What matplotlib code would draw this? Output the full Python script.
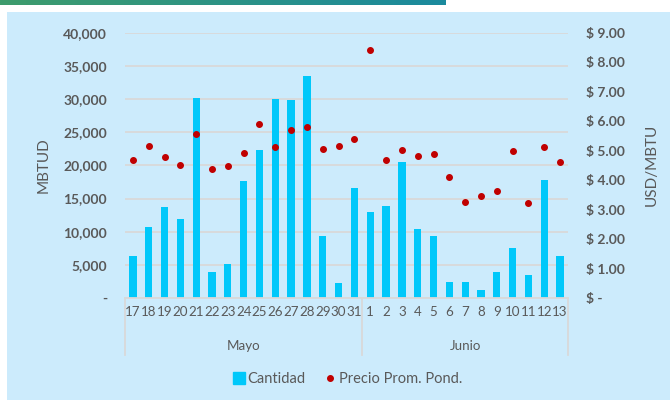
import matplotlib.pyplot as plt
import numpy as np
from matplotlib.patches import Rectangle
from matplotlib.lines import Line2D
from matplotlib.colors import LinearSegmentedColormap

plt.rcParams['font.family'] = ['Lato', 'DejaVu Sans']

# ---- datos ----
dias = ['17', '18', '19', '20', '21', '22', '23', '24', '25', '26', '27', '28', '29', '30', '31',
        '1', '2', '3', '4', '5', '6', '7', '8', '9', '10', '11', '12', '13']
meses = ['Mayo', 'Junio']
dias_por_mes = [15, 13]

cantidad = [6350, 10650, 13750, 11900, 30150, 3900, 5100, 17650, 22350, 30050, 29800, 33500, 9400, 2200, 16600,
            12900, 13900, 20500, 10400, 9400, 2400, 2400, 1200, 3900, 7550, 3450, 17800, 6300]
precio = [4.69, 5.15, 4.78, 4.51, 5.57, 4.38, 4.47, 4.93, 5.90, 5.11, 5.70, 5.80, 5.06, 5.16, 5.39,
          8.43, 4.69, 5.02, 4.83, 4.88, 4.10, 3.25, 3.46, 3.63, 4.97, 3.22, 5.11, 4.60]

ticks_izq = np.arange(0, 40001, 5000)
ticks_der = np.arange(0, 10, 1)

gris = '#595959'
azul_barra = '#00C8FA'
rojo = '#C00000'
fondo = '#CCEBFC'
linea = '#D9D9D9'

fig = plt.figure(figsize=(6.7, 4.0), dpi=100, facecolor='white')

# panel de fondo y franja superior
fig.add_artist(Rectangle((7 / 670, 0), 1 - 7 / 670, 1 - 12 / 400, transform=fig.transFigure,
                         facecolor=fondo, edgecolor='none', zorder=-5))
band = fig.add_axes([0, 1 - 5 / 400, 446 / 670, 5 / 400])
grad = np.linspace(0, 1, 256).reshape(1, -1)
cmap = LinearSegmentedColormap.from_list('banda', ['#3E9C6C', '#1B8A9E'])
band.imshow(grad, aspect='auto', cmap=cmap)
band.axis('off')

ax = fig.add_axes([125 / 670, 1 - 298 / 400, 443 / 670, (298 - 32.7) / 400])
ax.set_facecolor('none')
x = np.arange(len(dias))
ax.bar(x, cantidad, width=0.46, color=azul_barra, zorder=2)
ax.set_ylim(0, 40000)
ax.set_xlim(-0.5, len(dias) - 0.5)
ax.set_yticks(ticks_izq, labels=['-' if v == 0 else f'{v:,.0f}' for v in ticks_izq],
              fontweight='bold', fontsize=10, color=gris)
ax.grid(axis='y', color=linea, linewidth=1.3, zorder=0)
ax.set_axisbelow(True)
for s in ['top', 'left', 'right']:
    ax.spines[s].set_visible(False)
ax.spines['bottom'].set_color(linea)
ax.spines['bottom'].set_linewidth(1.3)
ax.tick_params(axis='y', length=0, pad=13)
ax.set_xticks(x, labels=dias, fontsize=9.6, color=gris)
ax.tick_params(axis='x', length=0, pad=6)
ax.set_ylabel('MBTUD', color=gris, fontsize=11, labelpad=9)

# separadores y meses
ext = -57 / 265
bordes = [-0.5]
for n in dias_por_mes:
    bordes.append(bordes[-1] + n)
trans = ax.get_xaxis_transform()
for b in bordes:
    ax.plot([b, b], [0, ext], transform=trans, color=linea, linewidth=1.3, clip_on=False)
for i, m in enumerate(meses):
    ax.text((bordes[i] + bordes[i + 1]) / 2, -48 / 265, m, transform=trans, ha='center', va='center',
            fontsize=9.6, color=gris)

ax2 = ax.twinx()
ax2.plot(x, precio, 'o', color=rojo, markersize=4, zorder=3)
ax2.set_ylim(0, 9)
ax2.set_yticks(ticks_der, labels=['$ -' if v == 0 else f'$ {v:.2f}' for v in ticks_der],
               fontweight='bold', fontsize=10, color=gris)
for s in ['top', 'left', 'right', 'bottom']:
    ax2.spines[s].set_visible(False)
ax2.tick_params(axis='y', length=0, pad=13)
ax2.set_ylabel('USD/MBTU', color=gris, fontsize=11, labelpad=14)

handles = [Line2D([], [], marker='s', linestyle='none', color=azul_barra, markersize=9),
           Line2D([], [], marker='o', linestyle='none', color=rojo, markersize=4)]
fig.legend(handles, ['Cantidad', 'Precio Prom. Pond.'], loc='center', bbox_to_anchor=(347 / 670, 1 - 379 / 400),
           ncol=2, frameon=False, fontsize=10.5, labelcolor=gris, handletextpad=0.1, columnspacing=1.2,
           handlelength=1.0)

fig.savefig('out.png', dpi=100, facecolor='white')
